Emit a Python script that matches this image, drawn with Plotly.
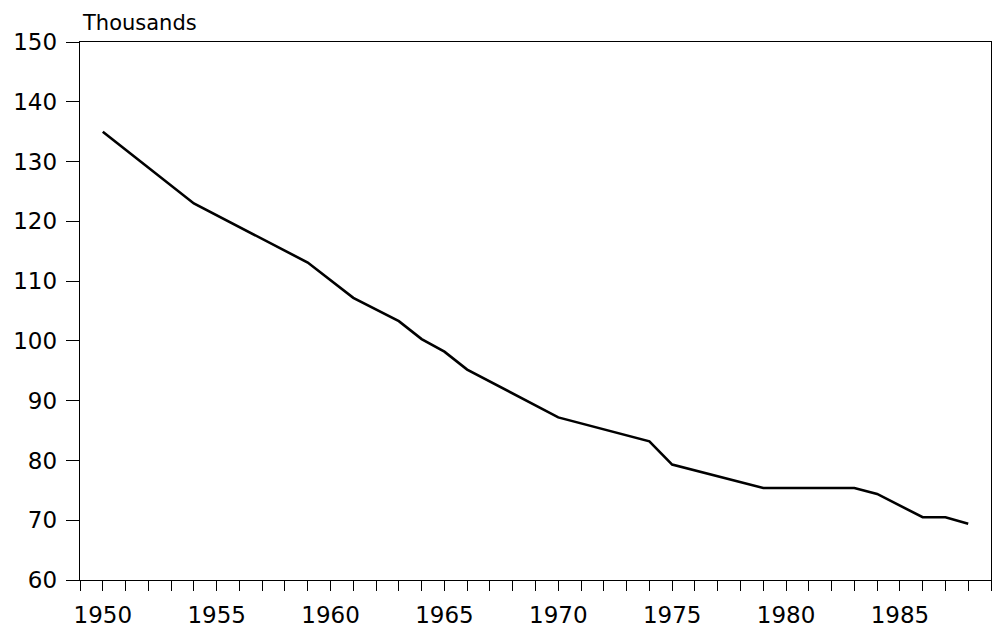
import plotly.graph_objects as go

years = [1950, 1954, 1959, 1961, 1963, 1964, 1965, 1966, 1970, 1974, 1975, 1979, 1983, 1984, 1986, 1987, 1988]
values = [135.0, 123.0, 113.1, 107.2, 103.3, 100.3, 98.2, 95.2, 87.2, 83.2, 79.3, 75.4, 75.4, 74.4, 70.5, 70.5, 69.4]

y_ticks = [60, 70, 80, 90, 100, 110, 120, 130, 140, 150]
x_ticks = [1950, 1955, 1960, 1965, 1970, 1975, 1980, 1985]

FONT = "DejaVu Sans"

fig = go.Figure()
fig.add_trace(go.Scatter(
    x=years, y=values, mode="lines",
    line=dict(color="black", width=2.6),
    showlegend=False, hoverinfo="skip",
))

fig.update_layout(
    width=992, height=630,
    margin=dict(l=80, r=1, t=42, b=50, autoexpand=False),
    paper_bgcolor="white", plot_bgcolor="white",
    font=dict(family=FONT, color="black", size=23),
    annotations=[dict(
        text="Thousands", xref="paper", yref="paper",
        x=0.0, y=1.0, xanchor="left", yanchor="bottom", yshift=5, xshift=0,
        showarrow=False, font=dict(family=FONT, size=21, color="black"),
    )],
)

fig.update_xaxes(
    range=[1949, 1989], tickmode="array", tickvals=x_ticks,
    ticktext=[str(v) for v in x_ticks],
    ticks="outside", ticklen=10, tickwidth=1, tickcolor="black",
    minor=dict(dtick=1, tick0=1949, ticks="outside", ticklen=10, tickwidth=1, tickcolor="black"),
    showgrid=False, zeroline=False, automargin=False,
    showline=True, linecolor="black", linewidth=1.3, mirror=True,
    ticklabelstandoff=4,
    tickfont=dict(family=FONT, size=23, color="black"),
)
fig.update_yaxes(
    range=[60, 150], tickmode="array", tickvals=y_ticks,
    ticktext=[str(v) for v in y_ticks],
    ticks="outside", ticklen=13, tickwidth=1, tickcolor="black",
    showgrid=False, zeroline=False, automargin=False,
    showline=True, linecolor="black", linewidth=1.3, mirror=True,
    ticklabelstandoff=4,
    tickfont=dict(family=FONT, size=23, color="black"),
)

fig.write_html(
    "out.html",
    config={"displayModeBar": False, "staticPlot": True},
    post_script="document.body.style.margin='0';document.body.style.overflow='hidden';",
)
